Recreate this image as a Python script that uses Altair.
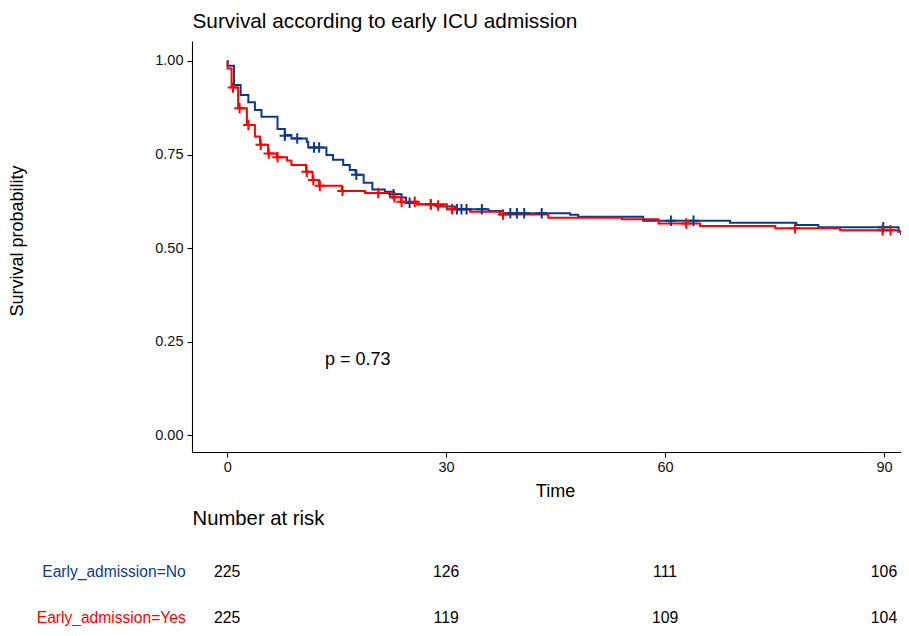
import altair as alt
import pandas as pd

FONT = "Liberation Sans"

# ---- data ----
groups = ["Early_admission=No", "Early_admission=Yes"]
colors = ["#0A3A8C", "#FF0000"]

# Kaplan-Meier step change points (time, survival after the step)
no_time = [0, 0.07, 0.93, 1.85, 2.9, 3.8, 4.7, 6.9, 7.9, 8.8, 10.9, 11.1, 13.6, 14.5, 15.9,
           16.8, 17.6, 18.7, 19.9, 21.6, 22.8, 23.9, 24.5, 26.0, 28.7, 31.2, 35.8, 37.8,
           47.0, 48.1, 57.0, 68.9, 78.0, 81.0, 92.0, 92.6, 93.0]
no_surv = [1.0, 0.987, 0.936, 0.909, 0.890, 0.869, 0.851, 0.818, 0.802, 0.793, 0.784, 0.769,
           0.749, 0.736, 0.722, 0.709, 0.696, 0.675, 0.657, 0.651, 0.644, 0.635, 0.621, 0.617,
           0.611, 0.604, 0.599, 0.593, 0.589, 0.584, 0.573, 0.568, 0.562, 0.556, 0.544, 0.538,
           0.538]

yes_time = [0, 0.05, 0.6, 1.5, 2.7, 3.8, 4.5, 5.6, 6.8, 8.2, 8.8, 10.8, 11.7, 12.6, 15.7,
            18.9, 22.3, 23.8, 26.0, 30.1, 33.3, 37.4, 44.0, 54.1, 59.1, 64.8, 75.1, 84.0,
            92.0, 93.4]
yes_surv = [1.0, 0.980, 0.929, 0.874, 0.829, 0.798, 0.776, 0.753, 0.743, 0.734, 0.722, 0.704,
            0.682, 0.667, 0.653, 0.647, 0.636, 0.624, 0.617, 0.604, 0.597, 0.590, 0.581,
            0.577, 0.566, 0.559, 0.553, 0.548, 0.545, 0.545]

# censoring marks
no_cens_time = [7.9, 9.6, 11.9, 12.6, 17.7, 22.8, 25.0, 27.9, 31.5, 32.1, 32.8, 34.9, 38.8,
                39.7, 40.7, 43.1, 60.8, 63.9, 89.9, 92.9]
no_cens_surv = [0.800, 0.793, 0.769, 0.769, 0.696, 0.644, 0.621, 0.617, 0.604, 0.604, 0.604,
                0.604, 0.593, 0.593, 0.593, 0.593, 0.573, 0.573, 0.556, 0.538]
yes_cens_time = [0.8, 1.7, 2.9, 4.6, 5.7, 6.9, 10.9, 11.8, 12.7, 15.8, 20.7, 22.9, 23.9, 25.7,
                 27.9, 28.9, 30.8, 37.8, 62.9, 77.8, 89.8, 90.9]
yes_cens_surv = [0.929, 0.874, 0.829, 0.776, 0.753, 0.743, 0.704, 0.682, 0.667, 0.653, 0.647,
                 0.636, 0.624, 0.624, 0.617, 0.614, 0.604, 0.590, 0.566, 0.553, 0.548, 0.548]

risk_times = [0, 30, 60, 90]
risk_no = [225, 126, 111, 106]
risk_yes = [225, 119, 109, 104]

x_ticks = [0, 30, 60, 90]
y_ticks = [0.0, 0.25, 0.5, 0.75, 1.0]

title_text = "Survival according to early ICU admission"
pval_text = ["p = 0.73"]
pval_x = [13.4]
pval_y = [0.201]

# ---- tables ----
curves = pd.concat([
    pd.DataFrame({"time": no_time, "surv": no_surv, "group": groups[0]}),
    pd.DataFrame({"time": yes_time, "surv": yes_surv, "group": groups[1]}),
])
cens = pd.concat([
    pd.DataFrame({"time": no_cens_time, "surv": no_cens_surv, "group": groups[0]}),
    pd.DataFrame({"time": yes_cens_time, "surv": yes_cens_surv, "group": groups[1]}),
])
risk_no_df = pd.DataFrame({"time": risk_times, "n": risk_no})
risk_yes_df = pd.DataFrame({"time": risk_times, "n": risk_yes})
pval_df = pd.DataFrame({"x": pval_x, "y": pval_y, "t": pval_text})

PLOT_W, PLOT_H = 709, 411
ROW_NO_Y, ROW_YES_Y = 536.0, 581.5   # baselines relative to plot top

x_scale = alt.Scale(domain=[-4.82, 92.33], nice=False, zero=False)
y_scale = alt.Scale(domain=[-0.0446, 1.0534], nice=False, zero=False)
color_scale = alt.Scale(domain=groups, range=colors)

x_enc = alt.X("time:Q", scale=x_scale,
              axis=alt.Axis(values=x_ticks, title="Time", titleX=363, titleY=44.7,
                            titleBaseline="alphabetic", labelPadding=3))
y_enc = alt.Y("surv:Q", scale=y_scale,
              axis=alt.Axis(values=y_ticks, format=".2f", title="Survival probability",
                            titleX=-169.3, titleY=199.5, titleBaseline="alphabetic",
                            labelPadding=4))

lines = alt.Chart(curves).mark_line(interpolate="step-after", strokeWidth=2, clip=True).encode(
    x=x_enc, y=y_enc,
    color=alt.Color("group:N", scale=color_scale, legend=None),
    detail="group:N",
)

censors = alt.Chart(cens).mark_point(
    shape="M-1,0L1,0M0,-1L0,1", filled=False, strokeWidth=2, size=110, opacity=1, clip=True
).encode(
    x="time:Q", y="surv:Q",
    color=alt.Color("group:N", scale=color_scale, legend=None),
)

pval = alt.Chart(pval_df).mark_text(
    align="left", baseline="middle", fontSize=18, font=FONT, color="#000000"
).encode(x="x:Q", y="y:Q", text="t:N")

title_mark = alt.Chart(pval_df).mark_text(
    align="left", baseline="alphabetic", fontSize=20.8, font=FONT, color="#000000"
).encode(x=alt.value(0.5), y=alt.value(-12.7), text=alt.value(title_text))

# risk table
risk_title = alt.Chart(pval_df).mark_text(
    align="left", baseline="alphabetic", fontSize=20.3, font=FONT, color="#000000"
).encode(x=alt.value(0.5), y=alt.value(484), text=alt.value("Number at risk"))

row_no_label = alt.Chart(pval_df).mark_text(
    align="right", baseline="alphabetic", fontSize=15.6, font=FONT, color=colors[0]
).encode(x=alt.value(-6.3), y=alt.value(ROW_NO_Y), text=alt.value(groups[0]))

row_yes_label = alt.Chart(pval_df).mark_text(
    align="right", baseline="alphabetic", fontSize=15.6, font=FONT, color=colors[1]
).encode(x=alt.value(-6.3), y=alt.value(ROW_YES_Y), text=alt.value(groups[1]))

row_no_vals = alt.Chart(risk_no_df).mark_text(
    align="center", baseline="alphabetic", fontSize=15.8, font=FONT, color="#000000"
).encode(x="time:Q", y=alt.value(ROW_NO_Y), text="n:Q")

row_yes_vals = alt.Chart(risk_yes_df).mark_text(
    align="center", baseline="alphabetic", fontSize=15.8, font=FONT, color="#000000"
).encode(x="time:Q", y=alt.value(ROW_YES_Y), text="n:Q")

chart = alt.layer(
    lines, censors, pval, title_mark, risk_title, row_no_label, row_yes_label,
    row_no_vals, row_yes_vals
).properties(
    width=PLOT_W, height=PLOT_H,
    autosize=alt.AutoSizeParams(type="none"),
    padding={"left": 184, "top": 33, "right": 0, "bottom": 174},
).configure_view(stroke=None).configure_axis(
    grid=False, domainColor="#000000", domainWidth=1.1, tickColor="#000000",
    tickWidth=1.1, tickSize=5, labelFont=FONT, labelFontSize=14.5, labelColor="#111111",
    titleFont=FONT, titleFontSize=18, titleFontWeight="normal", titleColor="#000000",
)

chart.save("out.html", embed_options={"renderer": "svg", "actions": False})
